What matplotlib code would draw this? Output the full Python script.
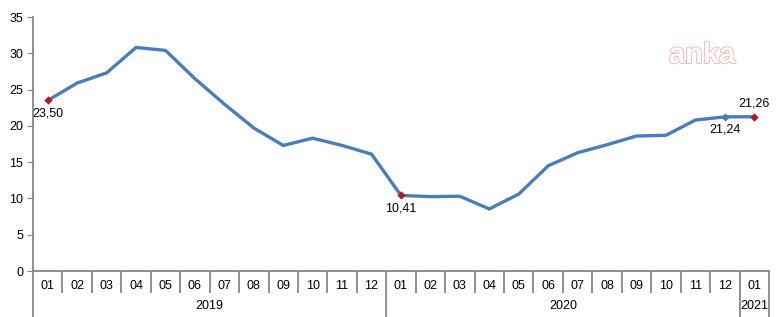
import matplotlib
matplotlib.use("Agg")
import matplotlib.pyplot as plt
import matplotlib.transforms as mtransforms
import matplotlib.patheffects as pe

plt.rcParams['font.family'] = ['Liberation Sans', 'DejaVu Sans']

months = ["01","02","03","04","05","06","07","08","09","10","11","12",
          "01","02","03","04","05","06","07","08","09","10","11","12","01"]
years = ["2019", "2020", "2021"]
year_counts = [12, 12, 1]
values = [23.50, 25.9, 27.3, 30.8, 30.4, 26.5, 23.0, 19.7, 17.3, 18.3, 17.3, 16.1,
          10.41, 10.25, 10.3, 8.55, 10.6, 14.5, 16.3, 17.4, 18.6, 18.7, 20.8, 21.24, 21.26]
red_idx = [0, 12, 24]
blue_idx = [23]
label_below = {0: "23,50", 12: "10,41", 23: "21,24"}
label_above = {24: "21,26"}

line_color = "#4a7ebb"
red_color = "#b2181f"
gray = "#868686"

fig = plt.figure(figsize=(7.77, 3.17), dpi=100)
ax = fig.add_axes([33/777, 1-271/317, (769-33)/777, (271-17)/317])

x = list(range(len(values)))
ax.plot(x, values, color=line_color, lw=2.4, solid_joinstyle='miter', zorder=2)
ax.scatter([x[i] for i in red_idx], [values[i] for i in red_idx], marker='D', s=18,
           color=red_color, zorder=3, linewidths=0)
ax.scatter([x[i] for i in blue_idx], [values[i] for i in blue_idx], marker='D', s=18,
           color=line_color, zorder=3, linewidths=0)
for i, t in label_below.items():
    ax.annotate(t, (x[i], values[i]), xytext=(0, -5), textcoords='offset points',
                ha='center', va='top', fontsize=9)
for i, t in label_above.items():
    ax.annotate(t, (x[i], values[i]), xytext=(0, 5), textcoords='offset points',
                ha='center', va='bottom', fontsize=9)

ax.set_xlim(-0.5, len(values) - 0.5)
ax.set_ylim(0, 35)
ax.set_yticks(range(0, 36, 5))
ax.tick_params(axis='y', direction='out', length=4, color=gray, labelsize=9, pad=3)
ax.set_xticks([])
for s in ['top', 'right']:
    ax.spines[s].set_visible(False)
for s in ['left', 'bottom']:
    ax.spines[s].set_color(gray)
    ax.spines[s].set_linewidth(1.3)

trans = mtransforms.blended_transform_factory(ax.transData, fig.transFigure)
y_axis = 1 - 271/317
y_short = 1 - 293/317
y_long = 0.0
y_month = 1 - 286/317
y_year = 1 - 306/317

year_bounds = [0]
for c in year_counts:
    year_bounds.append(year_bounds[-1] + c)

for b in range(len(values) + 1):
    yb = y_long if b in year_bounds else y_short
    ax.plot([b - 0.5, b - 0.5], [y_axis, yb], transform=trans, color=gray, lw=1.3,
            clip_on=False, solid_capstyle='butt')
for i, m in enumerate(months):
    ax.text(i, y_month, m, transform=trans, ha='center', va='center', fontsize=9)
for k, yname in enumerate(years):
    c = (year_bounds[k] + year_bounds[k + 1] - 1) / 2
    ax.text(c, y_year, yname, transform=trans, ha='center', va='center', fontsize=9)

fig.text(702/777, 1 - 55/317, "anka", ha='center', va='center', fontsize=21,
         color='white', fontweight='bold',
         path_effects=[pe.withStroke(linewidth=1.3, foreground='#f2b8bd')])

fig.savefig("out.png", dpi=100)
